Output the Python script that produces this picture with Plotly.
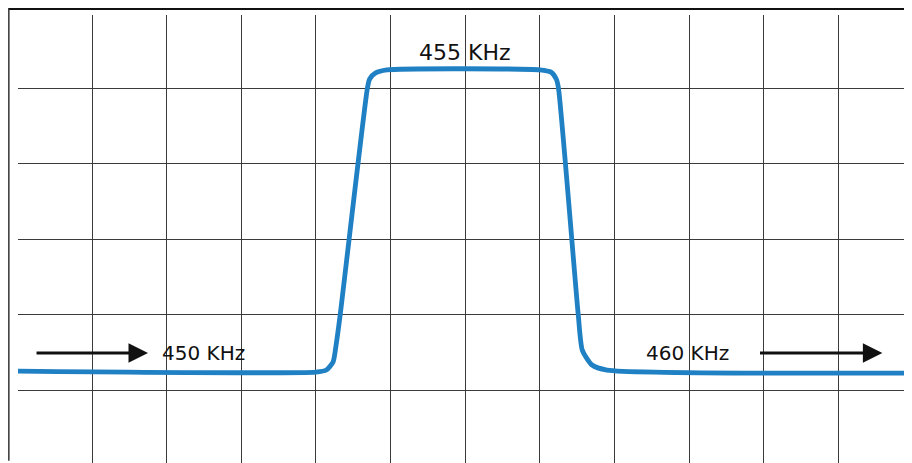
"""IF filter passband trace on a scope-style grid."""
import plotly.graph_objects as go

TRACE_BLUE = "#1f80c4"
GRID = "#3a3a3a"

# curve, in grid divisions (x: columns, y: rows from the bottom)
x_div = [-0.06, 4.0, 4.14, 4.23, 4.27, 4.325, 4.69, 4.72, 4.80, 4.95,
         7.0, 7.15, 7.22, 7.25, 7.515, 7.57, 7.70, 7.90, 11.92]
y_div = [1.257, 1.243, 1.27, 1.376, 1.60, 2.0, 5.0, 5.12, 5.20, 5.24,
         5.24, 5.21, 5.12, 5.0, 2.0, 1.53, 1.336, 1.27, 1.23]

labels = ["455 KHz", "450 KHz", "460 KHz"]
label_x = [6.0, 2.5, 8.98]
label_y = [5.476, 1.495, 1.495]
label_size = [22, 20, 20]

arrow_start = [0.236, 9.93]
arrow_end = [1.75, 11.59]
arrow_y = [1.495, 1.495]

fig = go.Figure()
fig.add_trace(go.Scatter(
    x=x_div, y=y_div, mode="lines",
    line=dict(color=TRACE_BLUE, width=4.8, shape="spline", smoothing=0.6),
    hoverinfo="skip", showlegend=False,
))

for txt, lx, ly, fs in zip(labels, label_x, label_y, label_size):
    fig.add_annotation(x=lx, y=ly, text=txt, showarrow=False,
                       font=dict(family="DejaVu Sans", size=fs, color="#111"))

for x0, x1, ay in zip(arrow_start, arrow_end, arrow_y):
    fig.add_annotation(x=x1, y=ay, ax=x0, ay=ay, axref="x", ayref="y",
                       text="", showarrow=True, arrowhead=2, arrowsize=1.3,
                       arrowwidth=3, arrowcolor="#111")

# outer frame (top and left edges), just outside the grid
fig.add_shape(type="line", xref="paper", yref="paper", x0=-0.011, x1=1.006,
              y0=1.0135, y1=1.0135, line=dict(color="#111", width=2))
fig.add_shape(type="line", xref="paper", yref="paper", x0=-0.0103, x1=-0.0103,
              y0=1.0135, y1=0.005, line=dict(color="#333", width=1.5))

axis_common = dict(showgrid=True, gridcolor=GRID, gridwidth=1.3, dtick=1, tick0=0,
                   showticklabels=False, zeroline=False, showline=False, ticks="")
fig.update_layout(
    width=904, height=455,
    margin=dict(l=10, r=5, t=7, b=0),
    paper_bgcolor="white", plot_bgcolor="white",
    xaxis=dict(range=[0.008, 11.92], **axis_common),
    yaxis=dict(range=[0.04, 5.966], **axis_common),
)
fig.write_html("out.html")
